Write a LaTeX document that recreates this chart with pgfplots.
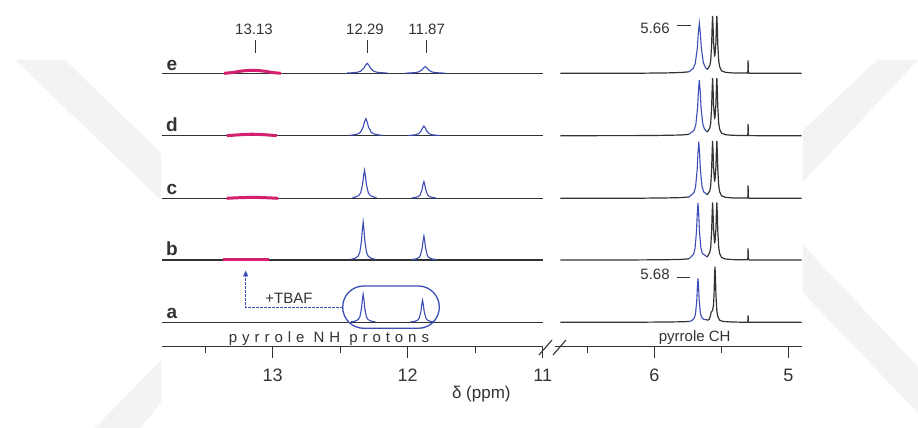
\documentclass[border=0pt]{standalone}
\usepackage{fontspec}
\setmainfont{Liberation Sans}
\usepackage{pgfplots}
\pgfplotsset{compat=1.18}
\usetikzlibrary{arrows.meta}
\definecolor{specblue}{HTML}{3A4CB5}
\definecolor{specmag}{HTML}{D4206E}
\definecolor{specgray}{HTML}{333333}
\definecolor{wm}{HTML}{F3F3F3}
\pgfplotsset{
  nmr/.style={
    scale only axis, height=346.7pt, ymin=81.3, ymax=428,
    x dir=reverse,
    axis x line=bottom, axis y line=none,
    x axis line style={-, line width=1.2pt, specgray},
    tick align=outside,
    major tick length=11pt, minor tick length=6pt,
    tick style={line width=1.1pt, specgray},
    ytick=\empty,
    xticklabel style={font=\fontsize{18}{21}\selectfont, text=specgray, yshift=-8pt},
    /pgf/number format/assume math mode=true,
    clip=false,
  },
  base/.style={specgray, line width=1.2pt},
  pk/.style={specblue, line width=1.1pt},
  mg/.style={specmag, line width=3pt},
}
\begin{document}
\begin{tikzpicture}[x=1pt,y=1pt]
\useasboundingbox (0,0) rectangle (918,428);
% faint watermark
\fill[wm] (15,368) -- (65,368) -- (161,275) -- (161,228) -- cycle;
\fill[wm] (161,68) -- (161,25) -- (140,0) -- (95,0) -- cycle;
\fill[wm] (877,368) -- (918,368) -- (803,246) -- (803,298) -- cycle;
\fill[wm] (803,183) -- (918,61) -- (918,15) -- (803,135) -- cycle;

% ---------------- left axis: NH region ----------------
\begin{axis}[nmr, at={(162pt,81.3pt)}, anchor=south west, width=380.7pt,
  xmin=11, xmax=13.82, xtick={11,12,13}, minor xtick={11.5,12.5,13.5}]
% e
\addplot[base] coordinates {(13.82,354.7)(11.0,354.7)};
\addplot[mg] coordinates {(13.36,354.7)(13.30,355.4)(13.25,356.6)(13.20,357.4)(13.15,357.7)(13.10,357.4)(13.05,356.6)(13.00,355.4)(12.94,354.7)};
\addplot[pk] coordinates {(12.45,355.0)(12.425,355.1)(12.375,355.7)(12.35,356.7)(12.325,359.7)(12.3125,362.7)(12.30,364.7)(12.2875,362.7)(12.275,359.7)(12.25,356.7)(12.225,355.7)(12.175,355.1)(12.15,355.0)};
\addplot[pk] coordinates {(12.02,354.88)(11.995,354.96)(11.945,355.37)(11.92,356.04)(11.895,358.05)(11.8825,360.06)(11.87,361.4)(11.8575,360.06)(11.845,358.05)(11.82,356.04)(11.795,355.37)(11.745,354.96)(11.72,354.88)};
% d
\addplot[base] coordinates {(13.82,292.3)(11.0,292.3)};
\addplot[mg] coordinates {(13.34,292.3)(13.25,293.2)(13.15,293.8)(13.05,293.2)(12.97,292.3)};
\addplot[pk] coordinates {(12.43,292.76)(12.41,292.95)(12.37,294.0)(12.35,295.7)(12.33,300.8)(12.32,305.9)(12.31,309.3)(12.30,305.9)(12.29,300.8)(12.27,295.7)(12.25,294.0)(12.21,292.95)(12.19,292.76)};
\addplot[pk] coordinates {(12.00,292.56)(11.98,292.67)(11.94,293.27)(11.92,294.24)(11.90,297.15)(11.89,300.06)(11.88,302.0)(11.87,300.06)(11.86,297.15)(11.84,294.24)(11.82,293.27)(11.78,292.67)(11.76,292.56)};
% c
\addplot[base] coordinates {(13.82,229.7)(11.0,229.7)};
\addplot[mg] coordinates {(13.34,229.7)(13.25,230.3)(13.15,230.7)(13.05,230.3)(12.96,229.7)};
\addplot[pk] coordinates {(12.41,230.4)(12.39,230.8)(12.362,232.5)(12.348,235.3)(12.334,243.7)(12.327,252.1)(12.32,257.7)(12.313,252.1)(12.306,243.7)(12.292,235.3)(12.278,232.5)(12.25,230.8)(12.23,230.4)};
\addplot[pk] coordinates {(11.97,230.1)(11.95,230.3)(11.922,231.4)(11.908,233.0)(11.894,238.05)(11.887,243.1)(11.88,246.4)(11.873,243.1)(11.866,238.05)(11.852,233.0)(11.838,231.4)(11.81,230.3)(11.79,230.1)};
% b
\addplot[base] coordinates {(13.82,168)(11.0,168)};
\addplot[mg] coordinates {(13.37,168)(13.03,168)};
\addplot[pk] coordinates {(12.42,168.7)(12.3925,169.5)(12.3675,171.8)(12.355,175.6)(12.3425,187)(12.336,198.4)(12.33,206)(12.324,198.4)(12.3175,187)(12.305,175.6)(12.2925,171.8)(12.2675,169.5)(12.24,168.7)};
\addplot[pk] coordinates {(11.97,168.5)(11.9425,168.9)(11.9175,170.4)(11.905,172.8)(11.8925,180)(11.886,187.2)(11.88,192)(11.874,187.2)(11.8675,180)(11.855,172.8)(11.8425,170.4)(11.8175,168.9)(11.79,168.5)};
% a
\addplot[base] coordinates {(13.82,105.7)(11.0,105.7)};
\addplot[pk] coordinates {(12.42,106.2)(12.39,106.8)(12.366,108.5)(12.354,111.3)(12.342,119.7)(12.336,128.1)(12.33,133.7)(12.324,128.1)(12.318,119.7)(12.306,111.3)(12.294,108.5)(12.27,106.8)(12.24,106.2)};
\addplot[pk] coordinates {(11.98,106.1)(11.95,106.55)(11.926,107.9)(11.914,110.1)(11.902,116.7)(11.896,123.3)(11.89,127.7)(11.884,123.3)(11.878,116.7)(11.866,110.1)(11.854,107.9)(11.83,106.55)(11.80,106.1)};
\end{axis}

% ---------------- right axis: CH region ----------------
\begin{axis}[nmr, at={(555.1pt,81.3pt)}, anchor=south west, width=246.6pt,
  xmin=4.9, xmax=6.74, xtick={5,6}, minor xtick={5.5,6.5}]
% e
\addplot[base] coordinates {(6.70,354.7)(6.10,354.8)(5.90,355.1)(5.80,355.5)(5.74,356.2)};
\addplot[pk] coordinates {(5.74,356.2)(5.709,359.7)(5.694,364.7)(5.679,379.7)(5.6715,394.7)(5.664,404.7)(5.6565,395.0)(5.649,380.1)(5.634,365.3)(5.619,360.7)(5.605,358.5)};
\addplot[base] coordinates {(5.605,358.5)(5.586,362.2)(5.579,367.2)(5.572,383.7)(5.5685,399.7)(5.565,412.2)(5.5615,401.8)(5.558,386.2)(5.551,373.2)(5.549,372.3)(5.547,372.9)(5.540,386.2)(5.5365,401.8)(5.533,412.2)(5.5295,400.0)(5.526,383.2)(5.519,366.9)(5.512,361.1)(5.498,357.2)(5.47,355.7)(5.42,355.1)(5.35,354.9)(5.306,354.9)(5.302,356.2)(5.300,367.7)(5.298,356.2)(5.294,354.8)(5.20,354.7)(4.90,354.7)};
% d
\addplot[base] coordinates {(6.70,292.3)(6.10,292.4)(5.90,292.7)(5.80,293.0)(5.74,293.7)};
\addplot[pk] coordinates {(5.74,293.7)(5.703,297.9)(5.690,303.4)(5.677,320.2)(5.6705,336.9)(5.664,348.0)(5.6575,337.2)(5.651,320.6)(5.638,304.0)(5.625,298.8)(5.605,295.9)};
\addplot[base] coordinates {(5.605,295.9)(5.586,299.8)(5.579,304.8)(5.572,321.3)(5.5685,337.3)(5.565,349.8)(5.5615,339.4)(5.558,323.8)(5.551,310.8)(5.549,309.9)(5.547,310.5)(5.540,323.8)(5.5365,339.4)(5.533,349.8)(5.5295,337.6)(5.526,320.8)(5.519,304.5)(5.512,298.7)(5.498,294.8)(5.47,293.3)(5.42,292.7)(5.35,292.5)(5.306,292.5)(5.302,293.6)(5.300,304.0)(5.298,293.6)(5.294,292.4)(5.20,292.3)(4.90,292.3)};
% c
\addplot[base] coordinates {(6.70,229.7)(6.10,229.8)(5.90,230.1)(5.80,230.4)(5.74,231.1)};
\addplot[pk] coordinates {(5.74,231.1)(5.704,235.4)(5.692,241.0)(5.68,258.1)(5.674,275.1)(5.668,286.4)(5.662,275.4)(5.656,258.5)(5.644,241.7)(5.632,236.3)(5.605,233.1)};
\addplot[base] coordinates {(5.605,233.1)(5.586,237.2)(5.579,242.2)(5.572,258.7)(5.5685,274.7)(5.565,287.2)(5.5615,276.8)(5.558,261.2)(5.551,248.2)(5.549,247.3)(5.547,247.9)(5.540,261.2)(5.5365,276.8)(5.533,287.2)(5.5295,275.0)(5.526,258.2)(5.519,241.9)(5.512,236.1)(5.498,232.2)(5.47,230.7)(5.42,230.1)(5.35,229.9)(5.306,229.9)(5.302,231.0)(5.300,242.7)(5.298,231.0)(5.294,229.8)(5.20,229.7)(4.90,229.7)};
% b
\addplot[base] coordinates {(6.70,168)(6.10,168.1)(5.90,168.3)(5.80,168.6)(5.74,169.2)};
\addplot[pk] coordinates {(5.74,169.2)(5.707,173.7)(5.696,179.4)(5.685,196.5)(5.6795,213.6)(5.674,225.0)(5.6685,213.9)(5.663,196.9)(5.652,180.0)(5.641,174.5)(5.605,171.0)};
\addplot[base] coordinates {(5.605,171.0)(5.586,175.5)(5.579,180.5)(5.572,197.0)(5.5685,213.0)(5.565,225.5)(5.5615,215.1)(5.558,199.5)(5.551,186.5)(5.549,185.6)(5.547,186.2)(5.540,199.5)(5.5365,215.1)(5.533,225.5)(5.5295,213.3)(5.526,196.5)(5.519,180.2)(5.512,174.4)(5.498,170.5)(5.47,169.0)(5.42,168.4)(5.35,168.2)(5.306,168.2)(5.302,169.3)(5.300,179.7)(5.298,169.3)(5.294,168.1)(5.20,168)(4.90,168)};
% a
\addplot[base] coordinates {(6.70,105.7)(6.10,105.8)(5.90,106.0)(5.80,106.2)(5.74,106.5)};
\addplot[pk] coordinates {(5.74,106.5)(5.719,107.4)(5.701,110.1)(5.692,114.5)(5.683,127.7)(5.6785,140.9)(5.674,149.7)(5.6695,141.0)(5.665,127.9)(5.656,114.9)(5.647,110.7)(5.629,108.5)(5.615,108.3)};
\addplot[base] coordinates {(5.615,108.3)(5.60,107.9)(5.59,108.7)(5.582,111.7)(5.576,115.7)(5.570,116.7)(5.564,118.2)(5.558,123.0)(5.554,133.9)(5.5505,150.5)(5.547,161.3)(5.5435,150.4)(5.540,133.6)(5.533,116.9)(5.526,111.3)(5.512,107.8)(5.487,106.5)(5.42,106.0)(5.35,105.8)(5.306,105.8)(5.302,106.4)(5.300,112.7)(5.298,106.4)(5.294,105.7)(5.20,105.7)(4.90,105.7)};
\end{axis}

% ---------------- annotations ----------------
\begin{scope}[text=specgray]
\foreach \yy/\ll in {357.7/e,296.3/d,233.7/c,172/b,109.7/a}
  \node[anchor=base, font=\bfseries\fontsize{19}{21}\selectfont] at (172,\yy) {\ll};
\draw[specgray, line width=1pt] (255,388) -- (255,374.7);
\draw[specgray, line width=1pt] (367.3,388) -- (367.3,374.7);
\draw[specgray, line width=1pt] (426,388) -- (426,374.7);
\node[anchor=base, font=\fontsize{15}{18}\selectfont] at (254,393) {13.13};
\node[anchor=base, font=\fontsize{15}{18}\selectfont] at (365,393) {12.29};
\node[anchor=base, font=\fontsize{15}{18}\selectfont] at (426.7,393) {11.87};
\node[anchor=base, font=\fontsize{15}{18}\selectfont] at (655,394.7) {5.66};
\draw[specgray, line width=1pt] (676.7,402) -- (690.7,402);
\node[anchor=base, font=\fontsize{15}{18}\selectfont] at (655,148) {5.68};
\draw[specgray, line width=1pt] (676.7,150) -- (690,150);
\node[anchor=base, font=\fontsize{15}{18}\selectfont\addfontfeatures{LetterSpace=33}] at (329,85.5) {pyrrole NH protons};
\node[anchor=base, font=\fontsize{15}{18}\selectfont] at (694.7,86) {pyrrole CH};
\node[anchor=base, font=\fontsize{15}{18}\selectfont] at (289,124.7) {+TBAF};
\node[anchor=base, font=\fontsize{17}{20}\selectfont] at (481.3,29) {δ (ppm)};
\end{scope}
\draw[specblue, line width=1.3pt, rounded corners=21pt] (342.7,99.7) rectangle (439.3,142);
\draw[specblue, line width=1.3pt, dash pattern=on 2.5pt off 1.5pt, -{Triangle[length=6pt,width=5pt]}] (342.7,120.2) -- (245.7,120.2) -- (245.7,157.5);
\draw[specgray, line width=1.1pt] (539,73) -- (552,88);
\draw[specgray, line width=1.1pt] (553,73) -- (566,88);
\end{tikzpicture}
\end{document}
